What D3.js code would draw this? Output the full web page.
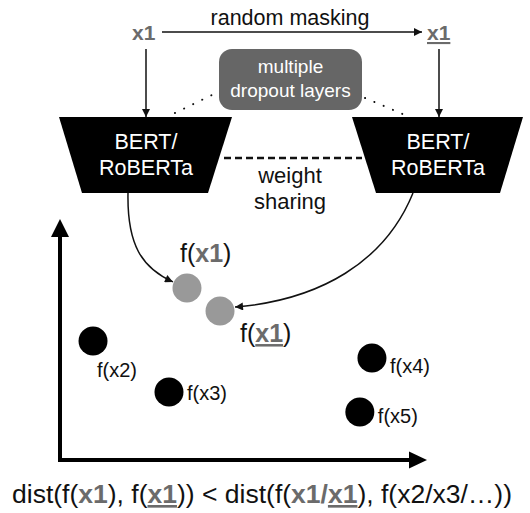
<!DOCTYPE html>
<html>
<head>
<meta charset="utf-8">
<script src="https://cdn.jsdelivr.net/npm/d3@7"></script>
<style>
  body { margin: 0; background: #fff; }
  svg { display: block; font-family: "Liberation Sans", Arial, Helvetica, sans-serif; }
</style>
</head>
<body>
<div id="paper"></div>
<script>
// embedding space points (axis units 0..10)
var pointIds = ['x1', 'x1u', 'x2', 'x3', 'x4', 'x5']
var pointX = [3.46, 4.36, 0.9, 2.97, 8.5, 8.17]
var pointY = [7.14, 6.18, 4.94, 2.82, 4.23, 1.99]
var pointGroup = ['pos', 'pos', 'neg', 'neg', 'neg', 'neg']
var pointLabels = ['x1', 'x1', 'x2', 'x3', 'x4', 'x5']

// encoder boxes
var encoderNames = ['BERT/', 'RoBERTa']

var W = 530, H = 513
var gray = '#6b6b6b', ink = '#111'

var svg = d3.select('#paper')
    .append('svg')
    .attr('width', W)
    .attr('height', H)

var x = d3.scaleLinear().domain([0, 10]).range([60, 427])
var y = d3.scaleLinear().domain([0, 10]).range([460, 219])

var defs = svg.append('defs')
defs.append('marker')
    .attr('id', 'head')
    .attr('viewBox', '0 0 10 10')
    .attr('refX', 10).attr('refY', 5)
    .attr('markerWidth', 10).attr('markerHeight', 8)
    .attr('markerUnits', 'userSpaceOnUse')
    .attr('orient', 'auto')
    .append('path')
    .attr('d', 'M0,0L10,5L0,10Z')
    .attr('fill', ink)

// ---- top: x1 --random masking--> x1
svg.append('text').attr('x', 290).attr('y', 25)
    .attr('text-anchor', 'middle').attr('font-size', 21.5).attr('fill', ink)
    .text('random masking')

svg.append('line')
    .attr('x1', 162).attr('y1', 32).attr('x2', 422).attr('y2', 32)
    .attr('stroke', ink).attr('stroke-width', 1.5)
    .attr('marker-end', 'url(#head)')

svg.append('text').attr('x', 132).attr('y', 40)
    .attr('font-size', 21).attr('font-weight', 'bold').attr('fill', gray)
    .text('x1')
svg.append('text').attr('x', 427).attr('y', 40)
    .attr('font-size', 21).attr('font-weight', 'bold').attr('fill', gray)
    .attr('text-decoration', 'underline')
    .text('x1')

// down arrows into encoders
;[146, 439].forEach(function(cx) {
    svg.append('line')
        .attr('x1', cx).attr('y1', 49).attr('x2', cx).attr('y2', 117)
        .attr('stroke', ink).attr('stroke-width', 1.5)
        .attr('marker-end', 'url(#head)')
})

// dotted links to dropout box
svg.append('line').attr('x1', 175).attr('y1', 113).attr('x2', 216).attr('y2', 93)
    .attr('stroke', ink).attr('stroke-width', 2)
    .attr('stroke-dasharray', '0.1,10').attr('stroke-linecap', 'round')
svg.append('line').attr('x1', 365).attr('y1', 98).attr('x2', 405).attr('y2', 115)
    .attr('stroke', ink).attr('stroke-width', 2)
    .attr('stroke-dasharray', '0.1,10').attr('stroke-linecap', 'round')

// dropout box
svg.append('rect')
    .attr('x', 219).attr('y', 49).attr('width', 143).attr('height', 61)
    .attr('rx', 13).attr('fill', '#666')
svg.append('text').attr('x', 290.5).attr('y', 73)
    .attr('text-anchor', 'middle').attr('font-size', 19).attr('fill', '#fff')
    .text('multiple')
svg.append('text').attr('x', 290.5).attr('y', 97)
    .attr('text-anchor', 'middle').attr('font-size', 19).attr('fill', '#fff')
    .text('dropout layers')

// encoders (trapezoids)
var encoders = [
    {top: [59, 232], bot: [82, 208], cx: 146},
    {top: [352, 523], bot: [376, 500], cx: 438}
]
encoders.forEach(function(e) {
    svg.append('path')
        .attr('d', d3.line()([[e.top[0], 117], [e.top[1], 117], [e.bot[1], 193], [e.bot[0], 193]]) + 'Z')
        .attr('fill', '#000')
    encoderNames.forEach(function(t, i) {
        svg.append('text').attr('x', e.cx).attr('y', 149 + i * 26)
            .attr('text-anchor', 'middle').attr('font-size', 21.5).attr('fill', '#fff')
            .text(t)
    })
})

// weight sharing
svg.append('line').attr('x1', 224).attr('y1', 158).attr('x2', 362).attr('y2', 158)
    .attr('stroke', ink).attr('stroke-width', 2.5).attr('stroke-dasharray', '7,4')
svg.append('text').attr('x', 290).attr('y', 183)
    .attr('text-anchor', 'middle').attr('font-size', 22).attr('fill', ink)
    .text('weight')
svg.append('text').attr('x', 290).attr('y', 209)
    .attr('text-anchor', 'middle').attr('font-size', 22).attr('fill', ink)
    .text('sharing')

// ---- embedding space axes
svg.append('line')
    .attr('x1', x(0)).attr('y1', y(0) + 2).attr('x2', x(0)).attr('y2', y(10) + 16)
    .attr('stroke', '#000').attr('stroke-width', 4)
svg.append('line')
    .attr('x1', x(0) - 2).attr('y1', y(0)).attr('x2', x(10) - 16).attr('y2', y(0))
    .attr('stroke', '#000').attr('stroke-width', 4)
svg.append('path')
    .attr('d', d3.line()([[x(0), y(10)], [x(0) + 9, y(10) + 18], [x(0) - 9, y(10) + 18]]) + 'Z')
    .attr('fill', '#000')
svg.append('path')
    .attr('d', d3.line()([[x(10), y(0)], [x(10) - 18, y(0) - 8.5], [x(10) - 18, y(0) + 8.5]]) + 'Z')
    .attr('fill', '#000')

// curved arrows from encoders to anchor/positive points
var p0 = [x(pointX[0]), y(pointY[0])]
var p1 = [x(pointX[1]), y(pointY[1])]
svg.append('path')
    .attr('d', 'M128,193 C127,245 142,268 ' + (p0[0] - 14) + ',' + (p0[1] - 6))
    .attr('fill', 'none').attr('stroke', ink).attr('stroke-width', 1.5)
    .attr('marker-end', 'url(#head)')
svg.append('path')
    .attr('d', 'M413,193 C385,262 320,300 ' + (p1[0] + 15) + ',' + (p1[1] - 4))
    .attr('fill', 'none').attr('stroke', ink).attr('stroke-width', 1.5)
    .attr('marker-end', 'url(#head)')

// points
svg.selectAll('circle.pt')
    .data(pointIds)
    .join('circle')
    .attr('class', 'pt')
    .attr('cx', function(d, i) { return x(pointX[i]) })
    .attr('cy', function(d, i) { return y(pointY[i]) })
    .attr('r', 14.5)
    .attr('fill', function(d, i) { return pointGroup[i] == 'pos' ? '#999' : '#000' })

// label placement relative to each point
var labelDx = [-7, 20, 4, 18, 18, 18]
var labelDy = [-26, 31, 36, 8, 15, 11]

pointIds.forEach(function(id, i) {
    var pos = pointGroup[i] == 'pos'
    var t = svg.append('text')
        .attr('x', x(pointX[i]) + labelDx[i])
        .attr('y', y(pointY[i]) + labelDy[i])
        .attr('font-size', pos ? 25 : 20)
        .attr('fill', ink)
    t.append('tspan').text('f(')
    var s = t.append('tspan').text(pointLabels[i])
    if (pos) {
        s.attr('font-weight', 'bold').attr('fill', gray)
        if (id == 'x1u') s.attr('text-decoration', 'underline')
    }
    t.append('tspan').text(')')
})

// ---- bottom inequality
var eq = svg.append('text')
    .attr('x', 262).attr('y', 503)
    .attr('text-anchor', 'middle').attr('font-size', 26.5).attr('fill', ink)
var parts = [
    ['dist(f(', 0], ['x1', 1], ['), f(', 0], ['x1', 2], [')) < dist(f(', 0],
    ['x1/', 1], ['x1', 2], ['), f(x2/x3/\u2026))', 0]
]
parts.forEach(function(p) {
    var s = eq.append('tspan').text(p[0])
    if (p[1] > 0) s.attr('font-weight', 'bold').attr('fill', gray)
    if (p[1] == 2) s.attr('text-decoration', 'underline')
})
</script>
</body>
</html>
